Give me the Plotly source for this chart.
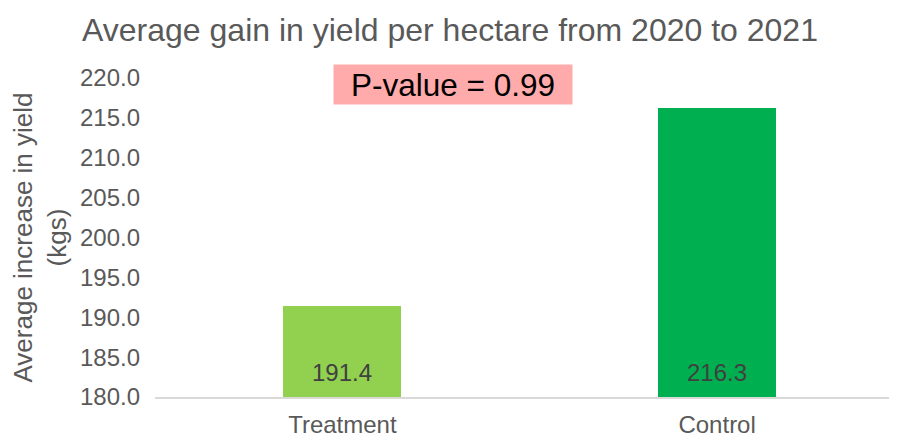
import plotly.graph_objects as go

categories = ["Treatment", "Control"]
values = [191.4, 216.3]
bar_colors = ["#92D050", "#00B050"]
y_ticks = [180, 185, 190, 195, 200, 205, 210, 215, 220]
title_text = "Average gain in yield per hectare from 2020 to 2021"
y_title = "Average increase in yield<br>(kgs)"
p_value_text = "P-value = 0.99"

FONT = "Liberation Sans, Arial, sans-serif"
GREY = "#595959"

fig = go.Figure()
fig.add_trace(go.Bar(
    x=categories,
    y=[v - 180 for v in values],
    base=180,
    marker=dict(color=bar_colors, line=dict(width=0)),
    width=0.315,
    hoverinfo="skip",
))

for c, v in zip(categories, values):
    fig.add_annotation(
        x=c, y=180, xref="x", yref="y",
        text=f"{v:.1f}", showarrow=False,
        yanchor="bottom", yshift=9,
        font=dict(family=FONT, size=24, color="#404040"),
    )

fig.add_annotation(
    x=0.401, y=0.98, xref="paper", yref="paper",
    text=p_value_text, showarrow=False,
    xanchor="center", yanchor="middle",
    bgcolor="#FFABAB", borderpad=0, width=238, height=39,
    font=dict(family=FONT, size=31.5, color="#000000"),
)

fig.update_layout(
    width=897, height=440,
    margin=dict(l=147, r=8, t=70, b=51, autoexpand=False),
    paper_bgcolor="white", plot_bgcolor="white",
    showlegend=False,
    bargap=0,
    title=dict(
        text=title_text, x=442 / 897, xanchor="center",
        y=1 - 22 / 440, yanchor="middle", yref="container",
        font=dict(family=FONT, size=32, color=GREY),
    ),
    xaxis=dict(
        type="category", range=[-0.5, 1.48], automargin=False,
        showline=True, linecolor="#D9D9D9", linewidth=2,
        showgrid=False, ticks="", ticklabelstandoff=5,
        tickfont=dict(family=FONT, size=24, color=GREY),
    ),
    yaxis=dict(
        range=[180, 220], tickvals=y_ticks, tickformat=".1f", automargin=False,
        showgrid=False, showline=False, zeroline=False, ticks="",
        ticklabelstandoff=14,
        tickfont=dict(family=FONT, size=24, color=GREY),
        title=dict(text=y_title, standoff=10,
                   font=dict(family=FONT, size=26, color=GREY)),
    ),
)

fig.write_html("out.html")
